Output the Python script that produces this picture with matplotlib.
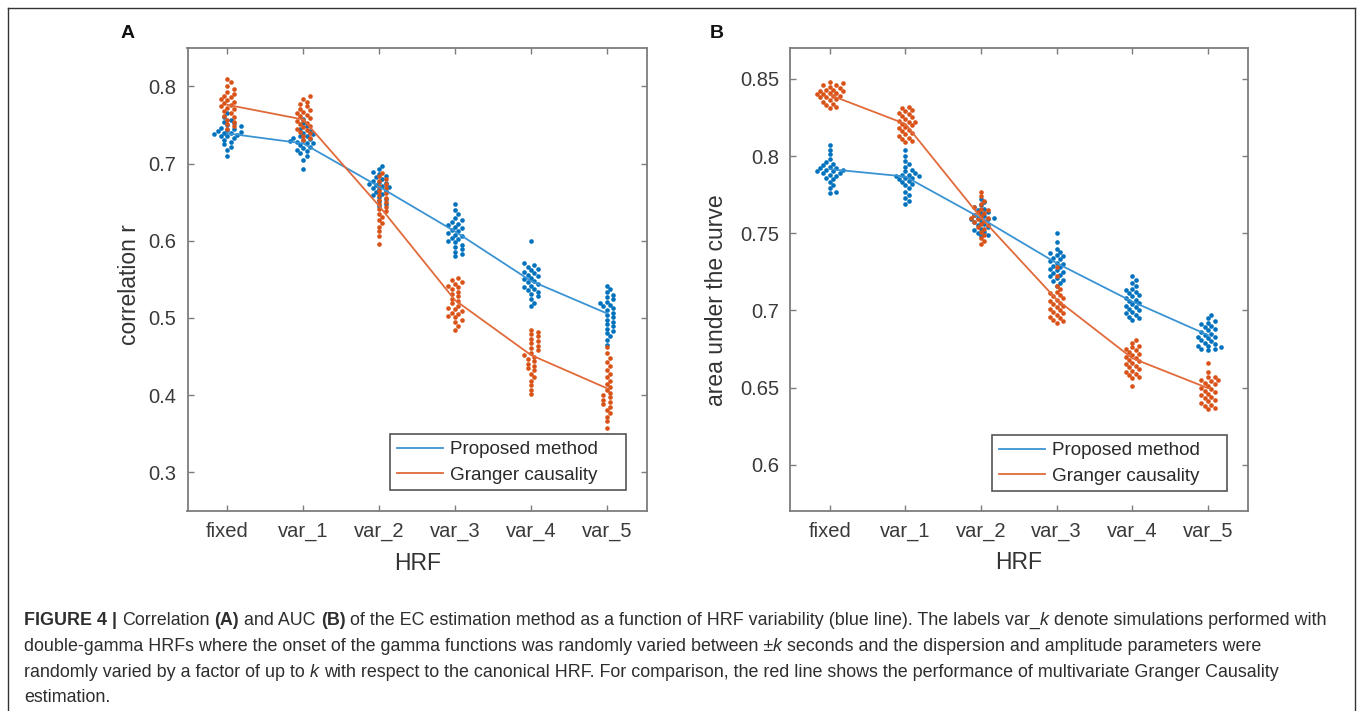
import numpy as np
import matplotlib
matplotlib.use("Agg")
import matplotlib.pyplot as plt
from matplotlib.lines import Line2D
from matplotlib.patches import Rectangle

plt.rcParams['font.family'] = ['Liberation Sans', 'DejaVu Sans']

# ---------------- data ----------------
categories = ["fixed", "var_1", "var_2", "var_3", "var_4", "var_5"]

# Panel A: correlation r
corr_prop_mean = [0.739, 0.726, 0.670, 0.612, 0.548, 0.506]
corr_gc_mean = [0.776, 0.757, 0.645, 0.523, 0.452, 0.409]
corr_prop_pts = [
    [0.765, 0.760, 0.757, 0.754, 0.752, 0.750, 0.748, 0.746, 0.745, 0.744, 0.742, 0.741, 0.740,
     0.739, 0.738, 0.737, 0.736, 0.735, 0.733, 0.731, 0.728, 0.725, 0.722, 0.718, 0.710],
    [0.758, 0.752, 0.748, 0.745, 0.742, 0.740, 0.738, 0.736, 0.735, 0.733, 0.732, 0.730, 0.729,
     0.728, 0.727, 0.726, 0.724, 0.722, 0.720, 0.718, 0.716, 0.713, 0.710, 0.705, 0.693],
    [0.697, 0.693, 0.689, 0.686, 0.684, 0.682, 0.680, 0.678, 0.676, 0.675, 0.674, 0.672, 0.671,
     0.670, 0.668, 0.667, 0.665, 0.663, 0.661, 0.659, 0.657, 0.654, 0.651, 0.648, 0.645],
    [0.648, 0.640, 0.634, 0.630, 0.627, 0.624, 0.622, 0.620, 0.618, 0.616, 0.614, 0.612, 0.610,
     0.608, 0.606, 0.604, 0.602, 0.600, 0.598, 0.595, 0.592, 0.589, 0.586, 0.583, 0.580],
    [0.600, 0.571, 0.568, 0.566, 0.564, 0.562, 0.560, 0.558, 0.556, 0.554, 0.552, 0.550, 0.548,
     0.546, 0.544, 0.542, 0.540, 0.538, 0.536, 0.534, 0.531, 0.528, 0.525, 0.520, 0.515],
    [0.541, 0.537, 0.533, 0.530, 0.527, 0.524, 0.521, 0.519, 0.517, 0.515, 0.513, 0.510, 0.507,
     0.504, 0.501, 0.498, 0.495, 0.492, 0.489, 0.486, 0.483, 0.480, 0.476, 0.471, 0.465],
]
corr_gc_pts = [
    [0.810, 0.805, 0.800, 0.796, 0.793, 0.790, 0.788, 0.786, 0.784, 0.782, 0.780, 0.778, 0.776,
     0.774, 0.772, 0.770, 0.768, 0.765, 0.762, 0.760, 0.757, 0.754, 0.751, 0.748, 0.745],
    [0.787, 0.784, 0.780, 0.777, 0.774, 0.771, 0.769, 0.767, 0.765, 0.763, 0.761, 0.759, 0.757,
     0.755, 0.753, 0.751, 0.749, 0.747, 0.745, 0.743, 0.741, 0.739, 0.736, 0.733, 0.730],
    [0.688, 0.684, 0.680, 0.677, 0.674, 0.671, 0.668, 0.665, 0.662, 0.659, 0.656, 0.653, 0.650,
     0.647, 0.644, 0.641, 0.638, 0.635, 0.631, 0.627, 0.623, 0.618, 0.612, 0.606, 0.596],
    [0.552, 0.549, 0.546, 0.544, 0.542, 0.540, 0.537, 0.534, 0.531, 0.528, 0.525, 0.522, 0.519,
     0.516, 0.513, 0.511, 0.509, 0.507, 0.505, 0.503, 0.501, 0.498, 0.495, 0.490, 0.485],
    [0.485, 0.482, 0.479, 0.476, 0.473, 0.470, 0.467, 0.464, 0.461, 0.458, 0.455, 0.452, 0.450,
     0.447, 0.444, 0.441, 0.438, 0.435, 0.432, 0.428, 0.424, 0.419, 0.413, 0.407, 0.401],
    [0.462, 0.455, 0.448, 0.443, 0.438, 0.433, 0.428, 0.423, 0.419, 0.415, 0.411, 0.407, 0.403,
     0.400, 0.397, 0.394, 0.391, 0.388, 0.385, 0.381, 0.377, 0.372, 0.366, 0.358, 0.349],
]

# Panel B: area under the curve
auc_prop_mean = [0.7915, 0.7867, 0.7597, 0.7306, 0.7057, 0.6840]
auc_gc_mean = [0.8396, 0.8208, 0.7600, 0.7070, 0.6690, 0.6496]
auc_prop_pts = [
    [0.807, 0.804, 0.801, 0.798, 0.796, 0.795, 0.794, 0.793, 0.792, 0.792, 0.791, 0.791, 0.790,
     0.790, 0.789, 0.789, 0.788, 0.787, 0.786, 0.785, 0.783, 0.781, 0.779, 0.777, 0.776],
    [0.804, 0.800, 0.797, 0.795, 0.793, 0.791, 0.790, 0.789, 0.788, 0.788, 0.787, 0.787, 0.786,
     0.786, 0.785, 0.784, 0.783, 0.782, 0.781, 0.779, 0.777, 0.775, 0.773, 0.771, 0.769],
    [0.772, 0.770, 0.768, 0.767, 0.766, 0.765, 0.764, 0.763, 0.762, 0.761, 0.760, 0.760, 0.759,
     0.759, 0.758, 0.757, 0.756, 0.755, 0.754, 0.753, 0.752, 0.751, 0.750, 0.749, 0.748],
    [0.750, 0.744, 0.740, 0.738, 0.737, 0.736, 0.735, 0.734, 0.733, 0.732, 0.731, 0.730, 0.729,
     0.728, 0.727, 0.726, 0.725, 0.724, 0.723, 0.722, 0.721, 0.720, 0.719, 0.718, 0.716],
    [0.722, 0.720, 0.718, 0.716, 0.714, 0.713, 0.712, 0.711, 0.710, 0.709, 0.708, 0.707, 0.706,
     0.705, 0.704, 0.703, 0.702, 0.701, 0.700, 0.699, 0.698, 0.697, 0.696, 0.695, 0.694],
    [0.697, 0.695, 0.693, 0.692, 0.691, 0.690, 0.689, 0.688, 0.687, 0.686, 0.685, 0.684, 0.683,
     0.683, 0.682, 0.681, 0.680, 0.679, 0.678, 0.677, 0.677, 0.676, 0.675, 0.675, 0.674],
]
auc_gc_pts = [
    [0.848, 0.847, 0.846, 0.846, 0.845, 0.844, 0.843, 0.843, 0.842, 0.842, 0.841, 0.841, 0.840,
     0.840, 0.839, 0.839, 0.838, 0.838, 0.837, 0.836, 0.835, 0.834, 0.833, 0.832, 0.831],
    [0.832, 0.831, 0.830, 0.829, 0.828, 0.827, 0.826, 0.825, 0.824, 0.823, 0.822, 0.822, 0.821,
     0.820, 0.819, 0.818, 0.817, 0.816, 0.815, 0.814, 0.813, 0.812, 0.811, 0.810, 0.809],
    [0.777, 0.774, 0.771, 0.769, 0.767, 0.766, 0.765, 0.764, 0.763, 0.762, 0.761, 0.760, 0.760,
     0.759, 0.758, 0.757, 0.756, 0.755, 0.754, 0.753, 0.751, 0.749, 0.747, 0.745, 0.743],
    [0.728, 0.722, 0.716, 0.714, 0.712, 0.711, 0.710, 0.709, 0.708, 0.707, 0.706, 0.705, 0.704,
     0.703, 0.702, 0.701, 0.700, 0.699, 0.698, 0.697, 0.696, 0.695, 0.694, 0.693, 0.692],
    [0.681, 0.679, 0.677, 0.676, 0.675, 0.674, 0.673, 0.672, 0.671, 0.670, 0.669, 0.668, 0.667,
     0.666, 0.665, 0.664, 0.663, 0.662, 0.661, 0.660, 0.659, 0.658, 0.657, 0.656, 0.651],
    [0.666, 0.660, 0.657, 0.657, 0.655, 0.655, 0.654, 0.653, 0.652, 0.651, 0.650, 0.649, 0.648,
     0.647, 0.646, 0.645, 0.644, 0.643, 0.642, 0.641, 0.640, 0.639, 0.638, 0.637, 0.636],
]

series_labels = ["Proposed method", "Granger causality"]

# ---------------- style ----------------
BLUE = "#0072BD"
RED = "#D95319"
BLUE_LINE = "#3a93d3"
RED_LINE = "#e16a3a"
SPINE = "#7d7d7d"
TXT = "#3a3a3a"

fig = plt.figure(figsize=(13.6, 7.11), dpi=100)
W, H = 1360, 711


def ax_rect(x0, x1, y0, y1):
    return [x0 / W, 1 - y1 / H, (x1 - x0) / W, (y1 - y0) / H]


axA = fig.add_axes(ax_rect(187.5, 647, 47.7, 511))
axB = fig.add_axes(ax_rect(790, 1248, 48, 511))


def swarm_offsets(ax, xc, vals, diam_px=4.4):
    """Beeswarm horizontal offsets (data units) computed from pixel positions."""
    vals = np.asarray(vals, float)
    pix = ax.transData.transform(np.column_stack([np.full(len(vals), xc), vals]))
    ypix = pix[:, 1]
    ppu = ax.transData.transform([[1, 0]])[0, 0] - ax.transData.transform([[0, 0]])[0, 0]
    order = np.argsort(ypix)
    placed = []
    offs = np.zeros(len(vals))
    step = diam_px * 0.75
    for i in order:
        k = 0
        while True:
            cands = [0.0] if k == 0 else [k * step, -k * step]
            done = False
            for c in cands:
                ok = True
                for (px, py) in placed:
                    if (px - c) ** 2 + (py - ypix[i]) ** 2 < (diam_px * 0.95) ** 2:
                        ok = False
                        break
                if ok:
                    offs[i] = c
                    placed.append((c, ypix[i]))
                    done = True
                    break
            if done:
                break
            k += 1
    return offs / ppu


def fig_px_to_ax(ax, xp, yp):
    """figure pixel (from top-left) -> axes fraction"""
    disp = np.array([xp, H - yp])
    return ax.transAxes.inverted().transform(disp)


def draw_panel(ax, prop_pts, gc_pts, prop_mean, gc_mean, ylim, yticks, yticklabels,
               ylabel, ylab_xy, legbox):
    x = np.arange(1, len(categories) + 1)
    ax.set_xlim(0.474, 6.53)
    ax.set_ylim(*ylim)
    for i, xc in enumerate(x):
        for pts, col in ((prop_pts[i], BLUE), (gc_pts[i], RED)):
            off = swarm_offsets(ax, xc, pts)
            ax.scatter(xc + off, pts, s=11, color=col, linewidths=0, zorder=2)
    ax.plot(x, prop_mean, color=BLUE_LINE, lw=1.3, zorder=3, label=series_labels[0])
    ax.plot(x, gc_mean, color=RED_LINE, lw=1.3, zorder=3, label=series_labels[1])
    ax.set_xticks(x)
    ax.set_xticklabels(categories)
    ax.set_yticks(yticks)
    ax.set_yticklabels(yticklabels)
    ax.tick_params(direction="in", top=True, right=True, length=4.5, width=1.0,
                   color=SPINE, labelcolor=TXT, labelsize=14.5, pad=8)
    for sp in ax.spines.values():
        sp.set_color(SPINE)
        sp.set_linewidth(1.3)
    ax.set_xlabel("HRF", fontsize=16.5, color="#333333")
    ax.xaxis.label.set_va("center")
    ax.xaxis.set_label_coords(0.5, (511 - 563) / 463.3)
    ax.set_ylabel(ylabel, fontsize=16.5, color="#333333")
    ax.yaxis.label.set_rotation_mode("default")
    ax.yaxis.label.set_va("center")
    ax.yaxis.label.set_ha("center")
    ax.yaxis.set_label_coords(*ylab_xy)

    # legend frame (MATLAB style, extra room on the right)
    bx0, bx1, by0, by1 = legbox
    (ax0, ay1) = fig_px_to_ax(ax, bx0, by0)
    (ax1, ay0) = fig_px_to_ax(ax, bx1, by1)
    rect = Rectangle((ax0, ay0), ax1 - ax0, ay1 - ay0, transform=ax.transAxes,
                     facecolor="white", edgecolor="#555555", lw=1.2, zorder=4, clip_on=False)
    ax.add_patch(rect)
    anc = fig_px_to_ax(ax, bx0 + 7, (by0 + by1) / 2 + 0.5)
    leg = ax.legend(loc="center left", bbox_to_anchor=(anc[0], anc[1]), borderaxespad=0,
                    fontsize=13.6, frameon=False, handlelength=2.45,
                    handletextpad=0.33, borderpad=0.0, labelspacing=0.45)
    leg.set_zorder(5)
    for t in leg.get_texts():
        t.set_color("#2a2a2a")


draw_panel(axA, corr_prop_pts, corr_gc_pts, corr_prop_mean, corr_gc_mean,
           (0.25, 0.85), [0.3, 0.4, 0.5, 0.6, 0.7, 0.8],
           ["0.3", "0.4", "0.5", "0.6", "0.7", "0.8"], "correlation r",
           ((130 - 187.5) / 459.5, (511 - 285) / 463.3), (390, 626, 434, 490))
draw_panel(axB, auc_prop_pts, auc_gc_pts, auc_prop_mean, auc_gc_mean,
           (0.57, 0.87), [0.6, 0.65, 0.7, 0.75, 0.8, 0.85],
           ["0.6", "0.65", "0.7", "0.75", "0.8", "0.85"], "area under the curve",
           ((716 - 790) / 458.0, (511 - 300) / 463.0), (992, 1227, 435, 491))

# panel letters
fig.text(128 / W, 1 - 33 / H, "A", fontsize=14, fontweight="bold", ha="center", va="center", color="#111111")
fig.text(717 / W, 1 - 33 / H, "B", fontsize=14, fontweight="bold", ha="center", va="center", color="#111111")

# outer frame (top, left, right)
fig.add_artist(Line2D([8 / W, 8 / W], [0, 1 - 8 / H], transform=fig.transFigure, color="#333333", lw=1.0))
fig.add_artist(Line2D([8 / W, 1355 / W], [1 - 8 / H, 1 - 8 / H], transform=fig.transFigure, color="#333333", lw=1.0))
fig.add_artist(Line2D([1355 / W, 1355 / W], [0, 1 - 8 / H], transform=fig.transFigure, color="#333333", lw=1.0))

# caption with mixed styles
CAP_FS = 12.86
CAP_COL = "#2e2e2e"
caption_lines = [
    [("FIGURE 4 |", "bold"), (" ", None), ("Correlation", "normal"), (" ", None), ("(A)", "bold"),
     (" ", None), ("and AUC", "normal"), (" ", None), ("(B)", "bold"), (" ", None),
     ("of the EC estimation method as a function of HRF variability (blue line). The labels var_", "normal"),
     ("k", "italic"), (" ", None), ("denote simulations performed with", "normal")],
    [("double-gamma HRFs where the onset of the gamma functions was randomly varied between \u00b1", "normal"),
     ("k", "italic"), (" ", None),
     ("seconds and the dispersion and amplitude parameters were", "normal")],
    [("randomly varied by a factor of up to", "normal"), (" ", None), ("k", "italic"), (" ", None),
     ("with respect to the canonical HRF. For comparison, the red line shows the performance of multivariate Granger Causality", "normal")],
    [("estimation.", "normal")],
]
line_baseline = [625, 651, 677, 702]

renderer = fig.canvas.get_renderer()
probe1 = fig.text(0, 0, "a a", fontsize=CAP_FS)
probe2 = fig.text(0, 0, "aa", fontsize=CAP_FS)
space_px = probe1.get_window_extent(renderer).width - probe2.get_window_extent(renderer).width
probe1.remove()
probe2.remove()

for segs, yy in zip(caption_lines, line_baseline):
    xpx = 24.0
    for txt, style in segs:
        if style is None:
            xpx += space_px
            continue
        kw = dict(fontsize=CAP_FS, color=CAP_COL, va="baseline", ha="left")
        if style == "bold":
            kw["fontweight"] = "bold"
        elif style == "italic":
            kw["fontstyle"] = "italic"
        t = fig.text(xpx / W, 1 - yy / H, txt, **kw)
        xpx += t.get_window_extent(renderer).width

fig.savefig("out.png", dpi=100)
